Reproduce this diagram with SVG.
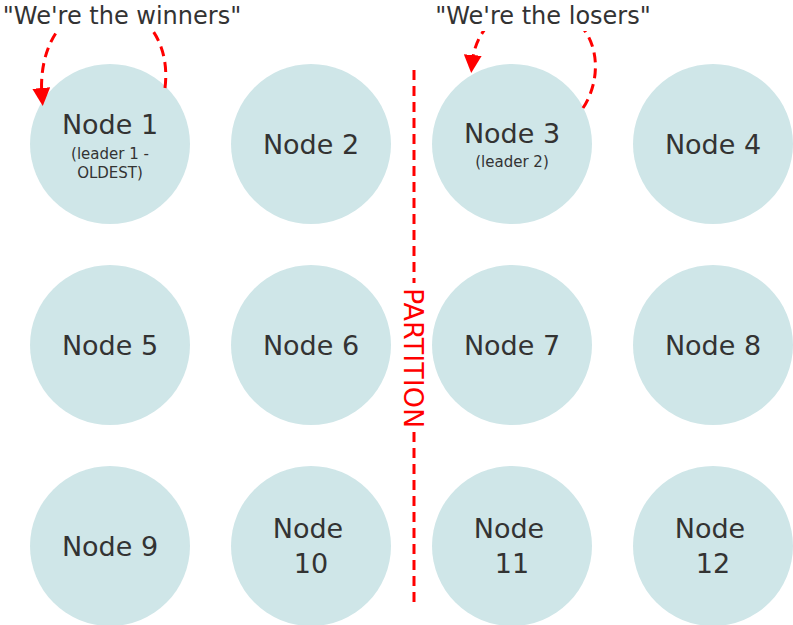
<svg xmlns="http://www.w3.org/2000/svg" width="793" height="625" viewBox="0 0 793 625">
<style>
.n{fill:#cfe6e8}
.t{font-family:"DejaVu Sans",sans-serif;font-size:27px;fill:#333;text-anchor:middle}
.s{font-family:"DejaVu Sans",sans-serif;font-size:15px;fill:#333;text-anchor:middle}
.q{font-family:"DejaVu Sans",sans-serif;font-size:24px;fill:#333;text-anchor:middle}
.r{fill:none;stroke:#ff0000;stroke-width:3;stroke-dasharray:10,6}
</style>
<defs><marker id="a" markerWidth="6" markerHeight="6" refX="3" refY="3" orient="auto" markerUnits="strokeWidth"><path d="M0,0L6,3L0,6z" fill="#ff0000"/></marker></defs>
<rect width="793" height="625" fill="#fff"/>
<g id="node1"><circle class="n" cx="110" cy="144" r="80"/><text class="t" x="110" y="134">Node 1</text><text class="s" x="110" y="159">(leader 1 -</text><text class="s" x="110" y="178">OLDEST)</text></g>
<g id="node2"><circle class="n" cx="311" cy="144" r="80"/><text class="t" x="311" y="154">Node 2</text></g>
<g id="node3"><circle class="n" cx="512" cy="144" r="80"/><text class="t" x="512" y="143">Node 3</text><text class="s" x="512" y="167">(leader 2)</text></g>
<g id="node4"><circle class="n" cx="713" cy="144" r="80"/><text class="t" x="713" y="154">Node 4</text></g>
<g id="node5"><circle class="n" cx="110" cy="345" r="80"/><text class="t" x="110" y="355">Node 5</text></g>
<g id="node6"><circle class="n" cx="311" cy="345" r="80"/><text class="t" x="311" y="355">Node 6</text></g>
<g id="node7"><circle class="n" cx="512" cy="345" r="80"/><text class="t" x="512" y="355">Node 7</text></g>
<g id="node8"><circle class="n" cx="713" cy="345" r="80"/><text class="t" x="713" y="355">Node 8</text></g>
<g id="node9"><circle class="n" cx="110" cy="546" r="80"/><text class="t" x="110" y="556">Node 9</text></g>
<g id="node10"><circle class="n" cx="311" cy="546" r="80"/><text class="t" x="308" y="538">Node</text><text class="t" x="311" y="573">10</text></g>
<g id="node11"><circle class="n" cx="512" cy="546" r="80"/><text class="t" x="509" y="538">Node</text><text class="t" x="512" y="573">11</text></g>
<g id="node12"><circle class="n" cx="713" cy="546" r="80"/><text class="t" x="710" y="538">Node</text><text class="t" x="713" y="573">12</text></g>
<g id="connectors">
<path class="r" d="M165,88 C172,30 130,0 100,5 C60,10 38,50 42,97" marker-end="url(#a)"/>
<path class="r" d="M583,108 C605,75 600,20 550,8 C500,0 475,30 472,64" marker-end="url(#a)"/>
<line class="r" x1="414" y1="70" x2="414" y2="283"/>
<line class="r" x1="414" y1="432" x2="414" y2="607"/>
<text x="0" y="0" transform="translate(404,358) rotate(90)" font-family="DejaVu Sans,sans-serif" font-size="27" fill="#ff0000" text-anchor="middle">PARTITION</text>
</g>
<rect x="0" y="0" width="250" height="31" fill="#fff"/>
<rect x="425" y="0" width="240" height="31" fill="#fff"/>
<text class="q" x="122" y="24">"We're the winners"</text>
<text class="q" x="543" y="24">"We're the losers"</text>
</svg>
